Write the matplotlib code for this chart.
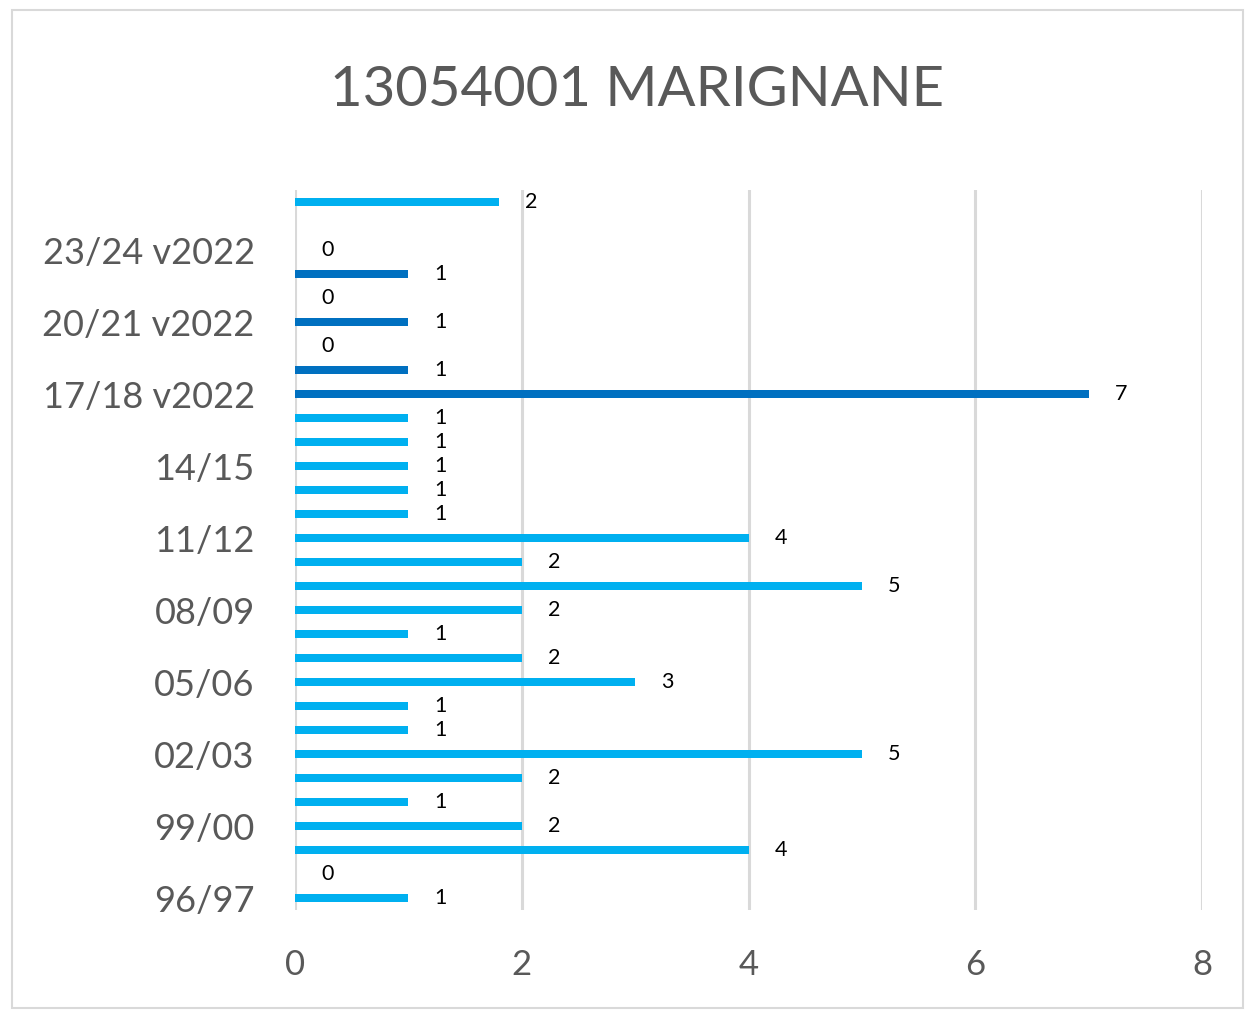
import matplotlib
matplotlib.use("Agg")
import matplotlib.pyplot as plt
from matplotlib.patches import Rectangle
import numpy as np

plt.rcParams['font.family'] = ['Lato', 'DejaVu Sans']

categories = ["96/97", "97/98", "98/99", "99/00", "00/01", "01/02", "02/03", "03/04",
              "04/05", "05/06", "06/07", "07/08", "08/09", "09/10", "10/11", "11/12",
              "12/13", "13/14", "14/15", "15/16", "16/17",
              "17/18 v2022", "18/19 v2022", "19/20 v2022", "20/21 v2022",
              "21/22 v2022", "22/23 v2022", "23/24 v2022", "24/25 v2022", "25/26"]
values = [1, 0, 4, 2, 1, 2, 5, 1, 1, 3, 2, 1, 2, 5, 2, 4,
          1, 1, 1, 1, 1,
          7, 1, 0, 1, 0, 1, 0, None, 1.8]
is_v2022 = [False] * 21 + [True] * 7 + [False, False]

LIGHT = "#00B0F0"
DARK = "#0070C0"
GRID = "#D9D9D9"
TXT = "#595959"

fig = plt.figure(figsize=(12.45, 10.10), dpi=100)
ax = fig.add_axes([295/1245, 1 - 910/1010, (1202-295)/1245, (910-190)/1010])

fig.patches.append(Rectangle((12/1245, 1 - 1008/1010), (1243-12)/1245, (1008-10)/1010,
                             transform=fig.transFigure, fill=False, edgecolor=GRID, linewidth=1.5))

y = np.arange(len(categories))
for i, (v, dk) in enumerate(zip(values, is_v2022)):
    if v is None:
        continue
    ax.barh(i, v, height=0.34, color=DARK if dk else LIGHT, zorder=3)
    ax.annotate(f"{v:.0f}", xy=(v, i), xytext=(19, 0), textcoords="offset points",
                ha="left", va="center", fontsize=15.5, color="black")

ax.set_xlim(0, 8)
ax.set_ylim(-0.5, len(categories) - 0.5)
ax.set_xticks([0, 2, 4, 6, 8])
ax.set_yticks(y[::3])
ax.set_yticklabels(categories[::3])
ax.tick_params(axis="y", length=0, labelsize=26, labelcolor=TXT, pad=29)
ax.tick_params(axis="x", length=0, labelsize=25, labelcolor=TXT, pad=28)
ax.grid(axis="x", color=GRID, linewidth=2.2, zorder=0)
for s in ax.spines.values():
    s.set_visible(False)

fig.text(637/1245, 1 - 90/1010, "13054001 MARIGNANE", ha="center", va="center",
         fontsize=40.5, color=TXT)

fig.savefig("out.png", dpi=100)
